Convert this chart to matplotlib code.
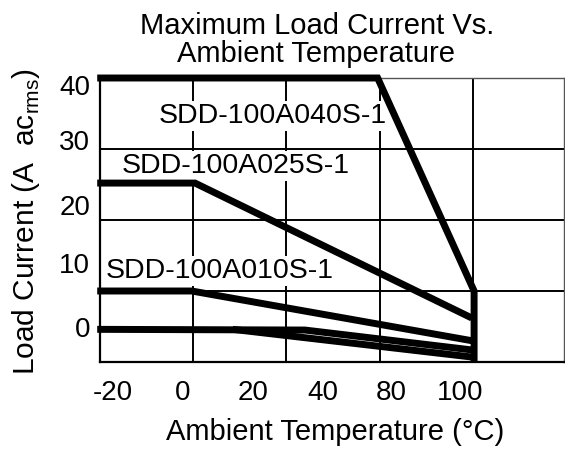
import matplotlib
matplotlib.use("Agg")
import matplotlib.pyplot as plt

plt.rcParams['font.family'] = ['Liberation Sans', 'DejaVu Sans']

# x is in grid units: gridlines every 20, the last one is the 100 degC line
temp_40s = [-20.6, 39.6, 60.3, 60.3]
amps_40s = [40.0, 40.0, 10.0, 0.0]
temp_25s = [-20.6, 0.4, 59.8]
amps_25s = [25.2, 25.2, 6.2]
temp_10s = [-20.6, -0.3, 59.8]
amps_10s = [10.0, 10.0, 3.0]
temp_low_a = [-20.6, 24.0, 59.8]
amps_low_a = [4.6, 4.5, 1.7]
temp_low_b = [8.5, 59.8]
amps_low_b = [4.6, 0.7]

grid_x = [0, 20, 40, 60]
grid_y = [10, 20, 30]

xtick_pos = [-17.2, -2.2, 12.8, 27.8, 42.6, 57.2]
xtick_lbl = ['-20', '0', '20', '40', '80', '100']
ytick_pos = [39.0, 31.3, 22.1, 13.9, 4.9]
ytick_lbl = ['40', '30', '20', '10', '0']

series_labels = ['SDD-100A040S-1', 'SDD-100A025S-1', 'SDD-100A010S-1']
label_xy = [(-7.4, 34.6), (-15.4, 27.6), (-18.8, 12.8)]

fig = plt.figure(figsize=(5.65, 4.51), dpi=100)
ax = fig.add_axes([100/565, 89/451, 464/565, 284/451])
ax.set_xlim(-20, 79.6)
ax.set_ylim(0, 40)

ax.vlines(grid_x, 0, 40, colors='black', linewidth=1.4, zorder=1)
ax.hlines(grid_y, -20, 79.6, colors='black', linewidth=1.4, zorder=1)

for t, a in [(temp_40s, amps_40s), (temp_25s, amps_25s), (temp_10s, amps_10s),
             (temp_low_a, amps_low_a), (temp_low_b, amps_low_b)]:
    ax.plot(t, a, color='black', linewidth=5, solid_capstyle='butt',
            solid_joinstyle='miter', clip_on=False, zorder=4)

for txt, (x, y) in zip(series_labels, label_xy):
    ax.text(x, y, txt, fontsize=20.5, va='center', ha='left', zorder=3,
            bbox=dict(facecolor='white', edgecolor='none', pad=1.5))

ax.set_xticks(xtick_pos, xtick_lbl)
ax.set_yticks(ytick_pos, ytick_lbl)
ax.tick_params(axis='both', length=0, labelsize=20)
ax.tick_params(axis='x', pad=13)
ax.tick_params(axis='y', pad=7)

for side in ['left', 'bottom']:
    ax.spines[side].set_linewidth(1.6)
for side in ['top', 'right']:
    ax.spines[side].set_linewidth(1.0)
    ax.spines[side].set_color('#555555')

fig.text(317/565, 1 - 26/451, 'Maximum Load Current Vs.', ha='center', va='center', fontsize=21)
fig.text(316/565, 1 - 54/451, 'Ambient Temperature', ha='center', va='center', fontsize=21)
fig.text(335/565, 1 - 432/451, 'Ambient Temperature (\u00b0C)', ha='center', va='center', fontsize=21)
fig.text(26/565, 1 - 222/451, r'Load Current (A  ac$_{\mathregular{rms}}$)', rotation=90,
         ha='center', va='center', fontsize=21.5)

fig.savefig('out.png', dpi=100)
